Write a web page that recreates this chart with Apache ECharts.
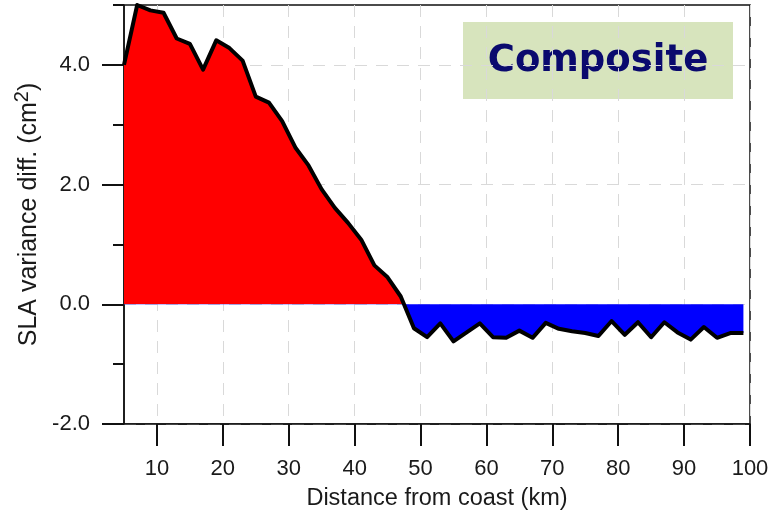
<!DOCTYPE html>
<html>
<head>
<meta charset="utf-8">
<script src="https://cdn.jsdelivr.net/npm/echarts@6/dist/echarts.min.js"></script>
<style>
  html, body { margin: 0; padding: 0; background: #ffffff; }
  #chart { width: 783px; height: 511px; }
</style>
</head>
<body>
<div id="chart"></div>
<script>
// Distance from the coast (km), sampled every 2 km
const distanceKm = [5, 7, 9, 11, 13, 15, 17, 19, 21, 23, 25, 27, 29, 31, 33, 35, 37, 39, 41, 43, 45, 47,
  49, 51, 53, 55, 57, 59, 61, 63, 65, 67, 69, 71, 73, 75, 77, 79, 81, 83, 85, 87, 89, 91, 93, 95, 97, 99];

// SLA variance difference (cm^2)
const varianceDiff = [4.00, 5.00, 4.91, 4.87, 4.44, 4.35, 3.92, 4.41, 4.28, 4.07, 3.47, 3.37, 3.06, 2.62,
  2.32, 1.92, 1.61, 1.36, 1.08, 0.65, 0.45, 0.13,
  -0.40, -0.55, -0.32, -0.62, -0.47, -0.32, -0.55, -0.56, -0.44, -0.56, -0.31, -0.41, -0.45, -0.48,
  -0.53, -0.28, -0.51, -0.30, -0.55, -0.30, -0.47, -0.59, -0.38, -0.56, -0.48, -0.48];

// Tick positions
const xTickValues = [10, 20, 30, 40, 50, 60, 70, 80, 90, 100];
const yMajorTicks = [-2, 0, 2, 4];
const yMinorTicks = [-1, 1, 3, 5];

const panelLabel = 'Composite';

const chart = echarts.init(document.getElementById('chart'), null, { renderer: 'canvas' });

const textFont = 'Liberation Sans, Arial, sans-serif';
const gridDash = { color: '#d9d9d9', width: 1, type: [12, 9] };

chart.setOption({
  animation: false,
  backgroundColor: '#ffffff',
  grid: {
    left: 124, right: 33, top: 5, bottom: 87,
    outerBoundsMode: 'none',
    show: true, borderColor: '#111', borderWidth: 1.5, backgroundColor: 'transparent'
  },
  xAxis: {
    type: 'value',
    min: 5, max: 100,
    splitNumber: 10, minInterval: 10, maxInterval: 10,
    name: 'Distance from coast (km)',
    nameLocation: 'middle',
    nameGap: 63,
    nameTextStyle: { fontFamily: textFont, fontSize: 23.5, color: '#1a1a1a' },
    axisLine: { show: true, onZero: false, lineStyle: { color: '#111', width: 1.5 } },
    axisTick: { show: true, inside: false, length: 22, customValues: xTickValues, lineStyle: { color: '#111', width: 2 } },
    axisLabel: { customValues: xTickValues, margin: 34, fontFamily: textFont, fontSize: 22, color: '#1a1a1a' },
    splitLine: { show: true, lineStyle: gridDash }
  },
  yAxis: [
    {
      type: 'value',
      min: -2, max: 5, interval: 1,
      name: 'SLA variance diff. (cm{sup|2})',
      nameLocation: 'middle',
      nameGap: 72,
      nameTextStyle: {
        fontFamily: textFont, fontSize: 25, color: '#1a1a1a',
        rich: { sup: { fontFamily: textFont, fontSize: 20, color: '#1a1a1a', verticalAlign: 'top', padding: [0, 0, 12, 0] } }
      },
      axisLine: { show: true, onZero: false, lineStyle: { color: '#111', width: 1.5 } },
      axisTick: { show: true, inside: false, length: 22, customValues: yMajorTicks, lineStyle: { color: '#111', width: 2 } },
      axisLabel: {
        customValues: yMajorTicks, margin: 34, fontFamily: textFont, fontSize: 22, color: '#1a1a1a',
        formatter: v => v.toFixed(1)
      },
      splitLine: { show: true, lineStyle: gridDash }
    },
    {
      // minor ticks at the odd values
      type: 'value',
      position: 'left',
      min: -2, max: 5, interval: 1,
      axisLine: { show: false },
      axisTick: { show: true, inside: false, length: 11, customValues: yMinorTicks, lineStyle: { color: '#111', width: 2 } },
      axisLabel: { show: false },
      splitLine: { show: false }
    }
  ],
  visualMap: {
    type: 'piecewise',
    show: false,
    seriesIndex: 0,
    dimension: 1,
    pieces: [
      { gte: -100, lt: 0, color: '#0000ff' },
      { gte: 0, lte: 100, color: '#ff0000' }
    ]
  },
  series: [
    {
      type: 'line',
      yAxisIndex: 0,
      data: distanceKm.map((d, i) => [d, varianceDiff[i]]),
      showSymbol: false,
      lineStyle: { color: '#000000', width: 4, join: 'round' },
      areaStyle: { opacity: 1, origin: 0 },
      z: 3
    }
  ],
  graphic: [
    {
      type: 'group',
      left: 463, top: 22,
      children: [
        { type: 'rect', shape: { x: 0, y: 0, width: 270, height: 77 }, style: { fill: '#d7e4bd' } },
        {
          type: 'text', x: 135, y: 39,
          style: {
            text: panelLabel, fill: '#0a0a6e', align: 'center', verticalAlign: 'middle',
            font: 'bold 37px "DejaVu Sans", sans-serif'
          }
        }
      ]
    }
  ]
});
</script>
</body>
</html>
